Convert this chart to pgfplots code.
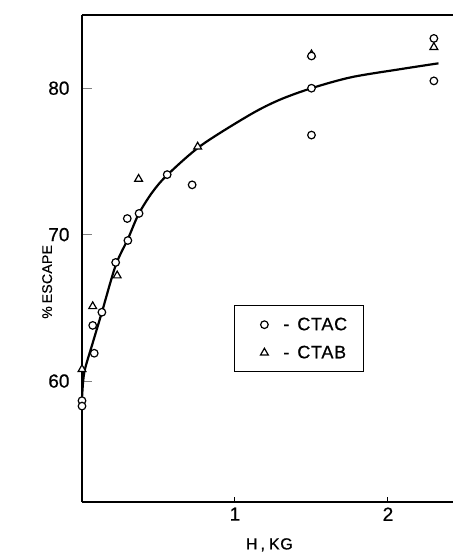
\documentclass[border=0pt]{standalone}
\usepackage{fontspec}
\setmainfont{Liberation Sans}[FakeBold=0.6]
\newcommand{\lab}{\addfontfeatures{FakeBold=0.6}}
\usepackage{pgfplots}
\pgfplotsset{compat=1.18}
\begin{document}
\begin{tikzpicture}[x=1pt,y=1pt]
\useasboundingbox (-82,-53) rectangle (371,502);
\begin{axis}[
  at={(0,0)}, anchor=south west,
  scale only axis, width=371pt, height=487pt,
  xmin=0, xmax=2.425, ymin=51.74, ymax=85.0,
  axis x line*=box, axis y line*=left,
  axis line style={line width=1.2pt},
  clip=false,
  xtick={1,2}, ytick={60,70,80},
  xtick style={draw=none},
  ytick style={line width=1pt},
  ytick pos=left,
  tick align=inside,
  major tick length=10pt,
  /pgf/number format/assume math mode=true,
  tick label style={font=\fontsize{19}{21}\selectfont\lab},
  xticklabel style={yshift=-2pt},
  yticklabel style={xshift=-9pt},
  xlabel={H\kern3pt,\kern4pt KG},
  xlabel style={font=\fontsize{16}{18}\selectfont\addfontfeatures{LetterSpace=4,FakeBold=0.6}, at={(axis description cs:0.505,-0.088)}, anchor=center},
  ylabel={\%\kern3pt ESCAPE},
  ylabel style={font=\fontsize{14}{16}\selectfont\addfontfeatures{LetterSpace=2,FakeBold=0.6}, at={(axis description cs:-0.094,0.452)}, anchor=center},
  reverse legend=true,
  legend style={at={(axis cs:0.993,65.19)}, anchor=north west, draw=black, line width=1.2pt,
    font=\fontsize{18}{20}\selectfont\addfontfeatures{LetterSpace=4,FakeBold=0.6},
    inner xsep=26pt, inner ysep=10pt, row sep=10pt},
  legend cell align=left,
]
\addplot[line width=2.2pt, smooth, forget plot] coordinates {
(0.0,58.8) (0.015,60.6) (0.07,62.6) (0.13,64.7) (0.22,67.9) (0.30,69.7) (0.37,71.4)
(0.46,72.9) (0.56,74.1) (0.78,76.1) (1.10,78.2) (1.29,79.2) (1.50,80.0) (1.76,80.75)
(2.08,81.3) (2.33,81.7)};
\addplot[only marks, mark=triangle*, mark size=4.5pt, mark options={fill=white, draw=black, line width=1.2pt}] coordinates {
(0.0,60.8) (0.07,65.1) (0.23,67.2) (0.37,73.8) (0.756,76.0) (1.50,82.3) (2.30,82.8)};
\addlegendentry{\kern13pt -\kern8pt CTAB\kern-12pt}
\addplot[only marks, mark=*, mark size=3.8pt, mark options={fill=white, draw=black, line width=1.2pt}] coordinates {
(0.0,58.66) (0.0,58.29) (0.08,61.9) (0.07,63.8) (0.13,64.7) (0.22,68.1) (0.30,69.6)
(0.296,71.1) (0.373,71.45) (0.557,74.1) (0.72,73.4) (1.50,82.2) (1.50,80.0) (1.50,76.8)
(2.30,83.4) (2.30,80.5)};
\addlegendentry{\kern13pt -\kern8pt CTAC\kern-12pt}
\draw[line width=1pt] (axis cs:1,51.74) -- ++(0pt,5pt);
\draw[line width=1pt] (axis cs:2,51.74) -- ++(0pt,5pt);
\end{axis}
\end{tikzpicture}
\end{document}
